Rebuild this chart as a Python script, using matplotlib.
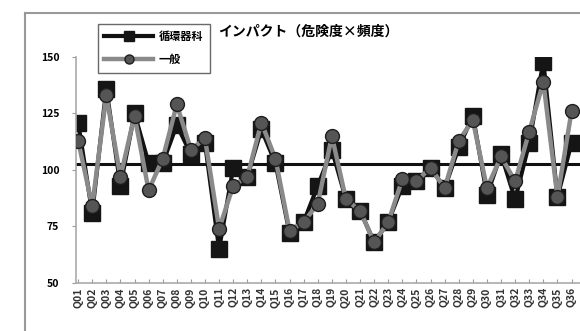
import matplotlib.pyplot as plt
from matplotlib.lines import Line2D

plt.rcParams['font.family'] = ['Noto Sans CJK JP', 'DejaVu Sans']

questions = ['Q%02d' % i for i in range(1, 37)]

# 循環器科
cardio = [121, 81, 136, 93, 125, 103, 103, 120, 107, 112,
          65, 101, 97, 118, 103, 72, 77, 93, 109, 87,
          82, 68, 77, 93, 95, 101, 92, 110, 124, 89,
          107, 87, 112, 148, 88, 112]
# 一般
general = [113, 84, 133, 97, 124, 91, 105, 129, 109, 114,
           74, 93, 97, 121, 105, 73, 77, 85, 115, 87,
           82, 68, 77, 96, 95, 101, 92, 113, 122, 92,
           106, 95, 117, 139, 88, 126]
average = 102.5

W, H = 580, 331
fig = plt.figure(figsize=(W / 100, H / 100), dpi=100)
ax = fig.add_axes([76 / W, 1 - 283 / H, 1 - 76 / W, (283 - 57) / H])

x = range(len(questions))
ax.axhline(average, color='#111111', lw=2.2, zorder=1)
ax.plot(x, cardio, color='#111111', lw=3, marker='s', ms=11,
        mfc='#151515', mec='#151515', zorder=2, label='循環器科')
ax.plot(x, general, color='#8a8a8a', lw=3.2, marker='o', ms=10,
        mfc='#555555', mec='#1e1e1e', zorder=3, label='一般')

ax.set_xlim(-0.15, 35.6)
ax.set_ylim(50, 150)
ax.set_yticks([50, 75, 100, 125, 150])
ax.set_xticks(list(x))
ax.set_xticklabels(questions, rotation=90, fontsize=7.5, fontweight='bold',
                   color='#333333')
for lab in ax.get_yticklabels():
    lab.set_fontsize(7.5)
    lab.set_fontweight('bold')
ax.tick_params(axis='y', direction='out', length=3, color='#999999', pad=9)
ax.tick_params(axis='x', direction='in', length=3, color='#999999', pad=3)

for side in ('top', 'right'):
    ax.spines[side].set_visible(False)
for side in ('left', 'bottom'):
    ax.spines[side].set_color('#aaaaaa')
    ax.spines[side].set_linewidth(1.2)
ax.patch.set_alpha(0)

fig.text(218 / W, 1 - 32 / H, 'インパクト（危険度×頻度）', fontsize=10,
         fontweight='bold', va='center', ha='left')

leg = fig.legend(loc='upper left', bbox_to_anchor=(92 / W, 1 - 18 / H),
                 handlelength=4.4, frameon=True, fancybox=False,
                 borderpad=0.6, labelspacing=0.9, handletextpad=0.5,
                 markerscale=0.65, prop={'weight': 'bold', 'size': 8})
leg.get_frame().set_edgecolor('#444444')
leg.get_frame().set_linewidth(1)

# outer chart frame
fig.add_artist(Line2D([25 / W, 25 / W], [0, 1 - 13 / H],
                      color='#999999', lw=1.5, transform=fig.transFigure))
fig.add_artist(Line2D([25 / W, 1], [1 - 13 / H, 1 - 13 / H],
                      color='#999999', lw=1.5, transform=fig.transFigure))

fig.savefig('out.png', dpi=100)
